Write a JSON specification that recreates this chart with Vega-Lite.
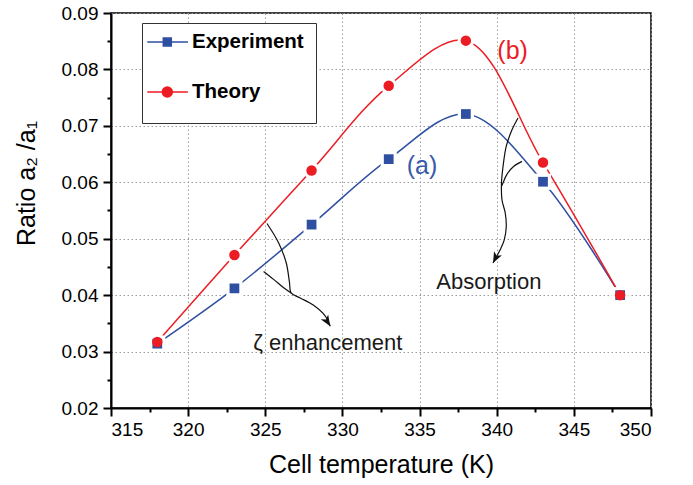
{
  "$schema": "https://vega.github.io/schema/vega-lite/v6.json",
  "width": 540,
  "height": 395,
  "autosize": "none",
  "padding": {"left": 111, "top": 13, "right": 42, "bottom": 77},
  "background": "white",
  "config": {
    "font": "Liberation Sans",
    "view": {"stroke": "black", "strokeWidth": 1.5},
    "axis": {
      "domainColor": "black",
      "domainWidth": 2,
      "tickColor": "black",
      "tickWidth": 2,
      "labelFont": "Liberation Sans",
      "labelFontSize": 19,
      "labelColor": "black",
      "titleFont": "Liberation Sans",
      "titleFontSize": 25,
      "titleFontWeight": "normal",
      "titleColor": "black",
      "gridColor": "#9a9a9a",
      "gridDash": [1.5, 2.5],
      "gridWidth": 1
    }
  },
  "datasets": {
    "main": [
      {"series": "Experiment", "T": 318, "ratio": 0.0314},
      {"series": "Experiment", "T": 323, "ratio": 0.0412},
      {"series": "Experiment", "T": 328, "ratio": 0.0525},
      {"series": "Experiment", "T": 333, "ratio": 0.0641},
      {"series": "Experiment", "T": 338, "ratio": 0.0721},
      {"series": "Experiment", "T": 343, "ratio": 0.0601},
      {"series": "Experiment", "T": 348, "ratio": 0.0400},
      {"series": "Theory", "T": 318, "ratio": 0.0317},
      {"series": "Theory", "T": 323, "ratio": 0.0471},
      {"series": "Theory", "T": 328, "ratio": 0.0621},
      {"series": "Theory", "T": 333, "ratio": 0.0771},
      {"series": "Theory", "T": 338, "ratio": 0.0851},
      {"series": "Theory", "T": 343, "ratio": 0.0635},
      {"series": "Theory", "T": 348, "ratio": 0.0400}
    ],
    "arrows": [
      {"arrow": "z1", "i": 0, "T": 325.11, "ratio": 0.0527},
      {"arrow": "z1", "i": 1, "T": 325.86, "ratio": 0.0493},
      {"arrow": "z1", "i": 2, "T": 326.36, "ratio": 0.0457},
      {"arrow": "z1", "i": 3, "T": 326.57, "ratio": 0.0422},
      {"arrow": "z1", "i": 4, "T": 326.67, "ratio": 0.0404},
      {"arrow": "z1", "i": 5, "T": 327.27, "ratio": 0.0395},
      {"arrow": "z1", "i": 6, "T": 328.13, "ratio": 0.0382},
      {"arrow": "z1", "i": 7, "T": 328.89, "ratio": 0.0363},
      {"arrow": "z1", "i": 8, "T": 329.21, "ratio": 0.0345},
      {"arrow": "z2", "i": 0, "T": 324.89, "ratio": 0.0442},
      {"arrow": "z2", "i": 1, "T": 325.54, "ratio": 0.0428},
      {"arrow": "z2", "i": 2, "T": 326.19, "ratio": 0.0413},
      {"arrow": "z2", "i": 3, "T": 326.67, "ratio": 0.0404},
      {"arrow": "a1", "i": 0, "T": 341.38, "ratio": 0.0714},
      {"arrow": "a1", "i": 1, "T": 340.99, "ratio": 0.0693},
      {"arrow": "a1", "i": 2, "T": 340.62, "ratio": 0.0664},
      {"arrow": "a1", "i": 3, "T": 340.41, "ratio": 0.0628},
      {"arrow": "a1", "i": 4, "T": 340.31, "ratio": 0.0599},
      {"arrow": "a1", "i": 5, "T": 340.34, "ratio": 0.0569},
      {"arrow": "a1", "i": 6, "T": 340.55, "ratio": 0.0546},
      {"arrow": "a1", "i": 7, "T": 340.62, "ratio": 0.0522},
      {"arrow": "a1", "i": 8, "T": 340.49, "ratio": 0.0498},
      {"arrow": "a1", "i": 9, "T": 340.23, "ratio": 0.0481},
      {"arrow": "a1", "i": 10, "T": 339.76, "ratio": 0.0457},
      {"arrow": "a2", "i": 0, "T": 341.64, "ratio": 0.0637},
      {"arrow": "a2", "i": 1, "T": 341.09, "ratio": 0.0628},
      {"arrow": "a2", "i": 2, "T": 340.66, "ratio": 0.0614},
      {"arrow": "a2", "i": 3, "T": 340.41, "ratio": 0.0599},
      {"arrow": "a2", "i": 4, "T": 340.31, "ratio": 0.0593}
    ]
  },
  "encoding": {
    "x": {
      "field": "T",
      "type": "quantitative",
      "scale": {"domain": [315, 350], "nice": false, "zero": false},
      "axis": {
        "title": "Cell temperature (K)",
        "values": [315, 317.5, 320, 322.5, 325, 327.5, 330, 332.5, 335, 337.5, 340, 342.5, 345, 347.5, 350],
        "labelExpr": "datum.value % 5 === 0 ? format(datum.value, 'd') : ''",
        "tickSize": {"condition": {"test": "datum.value % 5 === 0", "value": 8}, "value": 4},
        "gridOpacity": {"condition": {"test": "datum.value % 5 === 0", "value": 1}, "value": 0},
        "labelPadding": 4,
        "titlePadding": 13,
        "grid": true
      }
    },
    "y": {
      "field": "ratio",
      "type": "quantitative",
      "scale": {"domain": [0.02, 0.09], "nice": false, "zero": false},
      "axis": {
        "title": "Ratio a₂ /a₁",
        "values": [0.02, 0.025, 0.03, 0.035, 0.04, 0.045, 0.05, 0.055, 0.06, 0.065, 0.07, 0.075, 0.08, 0.085, 0.09],
        "labelExpr": "abs(datum.value * 100 - round(datum.value * 100)) < 0.001 ? format(datum.value, '.2f') : ''",
        "tickSize": {"condition": {"test": "abs(datum.value * 100 - round(datum.value * 100)) < 0.001", "value": 8}, "value": 4},
        "gridOpacity": {"condition": {"test": "abs(datum.value * 100 - round(datum.value * 100)) < 0.001", "value": 1}, "value": 0},
        "labelPadding": 5,
        "titleAngle": -90,
        "titleBaseline": "alphabetic",
        "titleAlign": "center",
        "titleX": -77,
        "titleY": 170,
        "grid": true
      }
    }
  },
  "layer": [
    {
      "data": {"name": "main"},
      "mark": {"type": "line", "interpolate": "catmull-rom", "strokeWidth": 1.5},
      "encoding": {
        "color": {
          "field": "series",
          "type": "nominal",
          "scale": {"domain": ["Experiment", "Theory"], "range": ["#2f4fa2", "#ec1c24"]},
          "legend": {
            "title": "____________________________________",
            "titleOrient": "bottom",
            "titleFontSize": 7.9,
            "titleFontWeight": "normal",
            "titleColor": "white",
            "titlePadding": 4,
            "titleLimit": 400,
            "orient": "none",
            "legendX": 31,
            "legendY": 10,
            "strokeColor": "#333333",
            "fillColor": "white",
            "padding": 8,
            "labelFont": "Liberation Sans",
            "labelFontSize": 20.5,
            "labelFontWeight": "bold",
            "labelColor": "black",
            "symbolSize": 400,
            "symbolStrokeWidth": 1.5,
            "symbolOpacity": 1,
            "symbolType": {"expr": "datum.value === 'Experiment' ? 'M-1.37,0H2.69M0.23,-0.4H1.03V0.4H0.23Z' : 'M-1.37,0H2.69M0.13,0A0.5,0.5 0 1,0 1.13,0A0.5,0.5 0 1,0 0.13,0Z'"},
            "symbolFillColor": {"expr": "datum.value === 'Experiment' ? '#2f4fa2' : '#ec1c24'"},
            "symbolStrokeColor": {"expr": "datum.value === 'Experiment' ? '#2f4fa2' : '#ec1c24'"},
            "labelOffset": 20,
            "rowPadding": 28
          }
        }
      }
    },
    {
      "data": {"name": "main"},
      "transform": [{"filter": "datum.series === 'Experiment'"}],
      "mark": {"type": "point", "filled": true, "color": "white", "size": 260, "opacity": 1, "shape": "square"}
    },
    {
      "data": {"name": "main"},
      "transform": [{"filter": "datum.series === 'Theory'"}],
      "mark": {"type": "point", "filled": true, "color": "white", "size": 280, "opacity": 1, "shape": "circle"}
    },
    {
      "data": {"name": "main"},
      "transform": [{"filter": "datum.series === 'Experiment'"}],
      "mark": {"type": "point", "filled": true, "size": 95, "opacity": 1, "shape": "square"},
      "encoding": {"color": {"field": "series", "type": "nominal", "legend": null}}
    },
    {
      "data": {"name": "main"},
      "transform": [{"filter": "datum.series === 'Theory'"}],
      "mark": {"type": "point", "filled": true, "size": 110, "opacity": 1, "shape": "circle"},
      "encoding": {"color": {"field": "series", "type": "nominal", "legend": null}}
    },
    {
      "data": {"name": "arrows"},
      "mark": {"type": "line", "interpolate": "catmull-rom", "strokeWidth": 1.2, "color": "#111111"},
      "encoding": {
        "detail": {"field": "arrow", "type": "nominal"},
        "order": {"field": "i", "type": "quantitative"}
      }
    },
    {
      "data": {"values": [{"T": 329.21, "ratio": 0.0345}]},
      "mark": {"type": "point", "filled": true, "color": "#111111", "opacity": 1, "size": 121, "angle": 58, "shape": "M0,0L-2,-0.8L-1.45,0L-2,0.8Z"}
    },
    {
      "data": {"values": [{"T": 339.76, "ratio": 0.0457}]},
      "mark": {"type": "point", "filled": true, "color": "#111111", "opacity": 1, "size": 121, "angle": 117, "shape": "M0,0L-2,-0.8L-1.45,0L-2,0.8Z"}
    },
    {
      "data": {"values": [{"T": 335.16, "ratio": 0.0628, "label": "(a)"}]},
      "mark": {"type": "text", "fontSize": 25, "color": "#3a5aab", "align": "center", "baseline": "middle", "font": "Liberation Sans"},
      "encoding": {"text": {"field": "label"}}
    },
    {
      "data": {"values": [{"T": 341.03, "ratio": 0.0832, "label": "(b)"}]},
      "mark": {"type": "text", "fontSize": 25, "color": "#ec1c24", "align": "center", "baseline": "middle", "font": "Liberation Sans"},
      "encoding": {"text": {"field": "label"}}
    },
    {
      "data": {"values": [{"T": 324.22, "ratio": 0.0316, "label": "ζ enhancement"}, {"T": 336.08, "ratio": 0.0424, "label": "Absorption"}]},
      "mark": {"type": "text", "fontSize": 22, "color": "#1a1a1a", "align": "left", "baseline": "middle", "font": "Liberation Sans"},
      "encoding": {"text": {"field": "label"}}
    }
  ]
}
